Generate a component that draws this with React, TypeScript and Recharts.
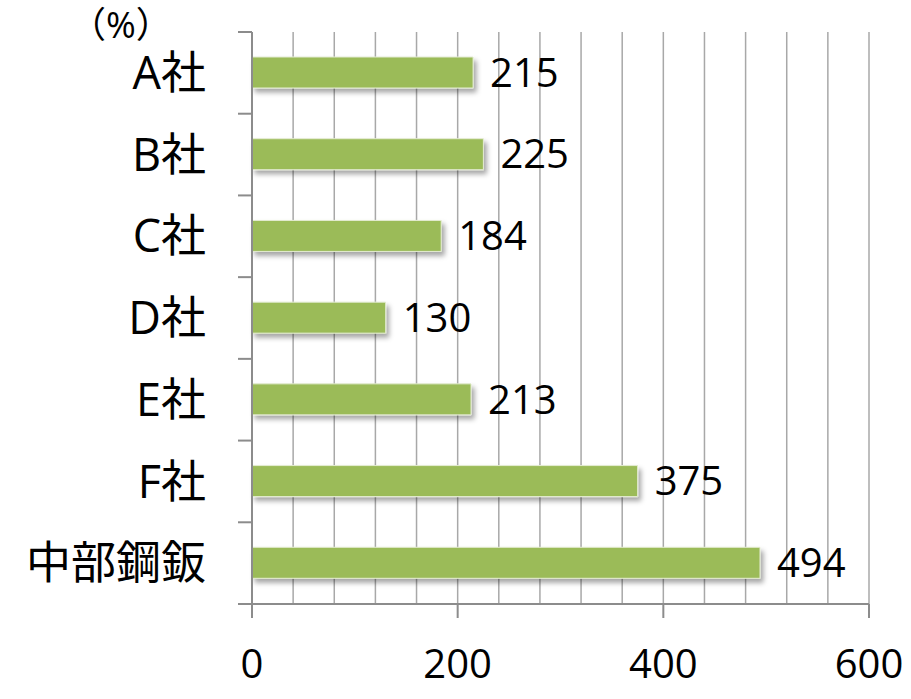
import React from 'react';
import { BarChart, Bar, XAxis, YAxis, CartesianGrid, LabelList } from 'recharts';

const companies = ['A社', 'B社', 'C社', 'D社', 'E社', 'F社', '中部鋼鈑'];
const values = [215, 225, 184, 130, 213, 375, 494];
const xTicks = [0, 200, 400, 600];
const gridTicks = [0, 40, 80, 120, 160, 200, 240, 280, 320, 360, 400, 440, 480, 520, 560, 600];
const unitLabel = '（%）';

const W = 911, H = 699;
const M = { top: 32, right: 42, left: 0, bottom: 0 };
const Y_W = 252, X_H = 95;
const FONT = '"Open Sans", "Noto Sans CJK JP", sans-serif';

const data = companies.map((name, i) => ({ name, value: values[i] }));

function CatTick(props: any) {
  const { x, y, payload, index } = props;
  const band = (H - M.top - X_H) / companies.length;
  const ax = Y_W;
  return (
    <g>
      <line x1={ax - 14} x2={ax} y1={y - band / 2} y2={y - band / 2} stroke="#8c8c8c" strokeWidth={2} />
      {index === companies.length - 1 && (
        <line x1={ax - 14} x2={ax} y1={y + band / 2} y2={y + band / 2} stroke="#8c8c8c" strokeWidth={2} />
      )}
      {index === 0 && (
        <text x={121} y={y - band / 2 + 6} textAnchor="middle" style={{ fontSize: 36 }} fill="#000" fontFamily={FONT}>
          {unitLabel}
        </text>
      )}
      <text x={x} y={y} dy="0.36em" textAnchor="end" fontSize={45} fill="#000" fontFamily={FONT}>
        {payload.value}
      </text>
    </g>
  );
}

const gridGen = (p: any) => {
  const sc = p && p.xAxis && p.xAxis.scale;
  if (typeof sc === 'function') return gridTicks.map((v) => sc(v));
  const off = p.offset;
  return gridTicks.map((v) => off.left + (v / 600) * off.width);
};

export default function App() {
  return (
    <div style={{ position: 'absolute', left: 0, top: 0, width: W, height: H, background: '#fff' }}>
      <BarChart width={W} height={H} data={data} layout="vertical" margin={M} barSize={31}>
        <defs>
          <filter id="shadow" x="-5%" y="-30%" width="115%" height="180%">
            <feDropShadow dx="3" dy="4" stdDeviation="2.5" floodColor="#000" floodOpacity="0.35" />
          </filter>
        </defs>
        <CartesianGrid horizontal={false} verticalCoordinatesGenerator={gridGen} stroke="#a8a8a8" strokeWidth={1.5} />
        <XAxis
          type="number"
          domain={[0, 600]}
          ticks={xTicks}
          height={X_H}
          tickSize={14}
          tickMargin={32}
          axisLine={{ stroke: '#8c8c8c', strokeWidth: 2 }}
          tickLine={{ stroke: '#8c8c8c', strokeWidth: 2 }}
          tick={{ fontSize: 40, fill: '#000', fontFamily: FONT }}
        />
        <YAxis
          type="category"
          dataKey="name"
          width={Y_W}
          tickSize={14}
          tickMargin={32}
          tickLine={false}
          axisLine={{ stroke: '#8c8c8c', strokeWidth: 2 }}
          tick={<CatTick />}
          interval={0}
        />
        <Bar dataKey="value" fill="#9bbb59" stroke="#e4ecd2" strokeWidth={1} filter="url(#shadow)" isAnimationActive={false}>
          <LabelList dataKey="value" position="right" offset={17} fontSize={40} fill="#000" fontFamily={FONT} />
        </Bar>
      </BarChart>
    </div>
  );
}
